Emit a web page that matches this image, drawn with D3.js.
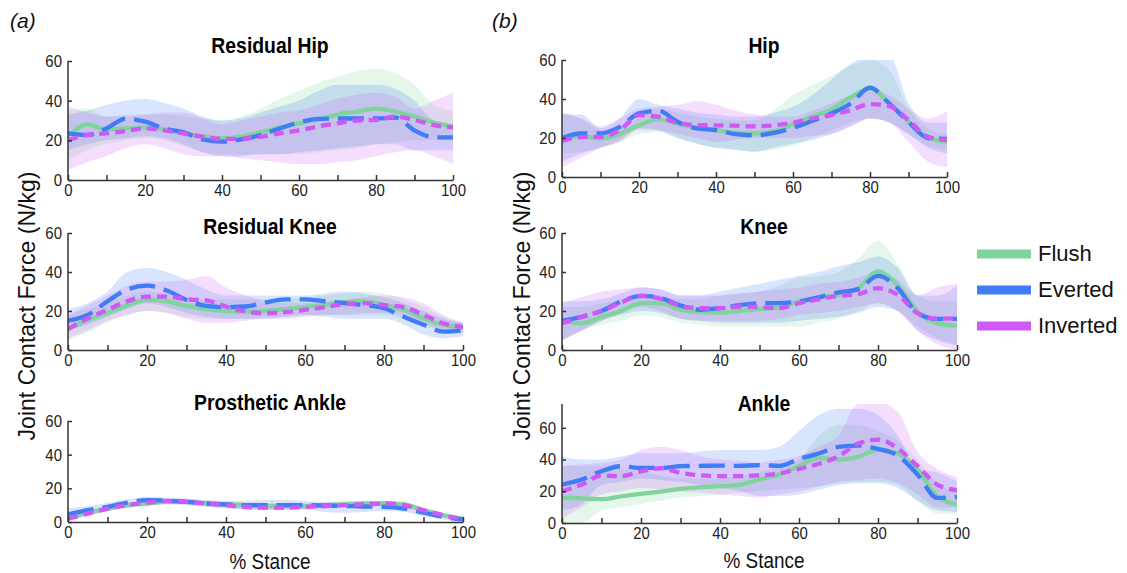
<!DOCTYPE html>
<html>
<head>
<meta charset="utf-8">
<script src="https://cdn.jsdelivr.net/npm/d3@7/dist/d3.min.js"></script>
<style>
  html, body { margin: 0; padding: 0; background: #fff; }
  svg { display: block; }
  .tick text { font-family: "Liberation Sans", "Helvetica", sans-serif; font-size: 17px; fill: #222; }
  .ptitle { font-family: "Liberation Sans", "Helvetica", sans-serif; font-weight: bold; font-size: 22px; fill: #000; }
  .alabel { font-family: "Liberation Sans", "Helvetica", sans-serif; font-size: 24px; fill: #111; }
  .xlabel { font-family: "Liberation Sans", "Helvetica", sans-serif; font-size: 22px; fill: #111; }
  .leg { font-family: "Liberation Sans", "Helvetica", sans-serif; font-size: 22px; fill: #111; }
  .tag { font-family: "Liberation Sans", "Helvetica", sans-serif; font-size: 21px; font-style: italic; fill: #111; }
</style>
</head>
<body>
<svg id="chart" width="1127" height="573"></svg>
<script>
// % stance sample points shared by every curve
const stance = [0,5,10,15,20,25,30,35,40,45,50,55,60,65,70,75,80,85,90,95,100];
const conditions = ["Flush", "Everted", "Inverted"];
const xTicks = [0,20,40,60,80,100];
const xMinorTicks = [0,10,20,30,40,50,60,70,80,90,100];
const yTicks = [0,20,40,60];

// Residual hip (N/kg)
const rHipFlush      = [22,28,25.5,26,26.5,25.5,23.5,22,21,22,24,26.5,28.5,30.5,33,34.5,36,34.5,32,29,27];
const rHipFlushLo    = [10,15,18,20,21,20,17,14,13,13,13,13,13,14,15,16,18,19,20,20,20];
const rHipFlushHi    = [35,36,32,33,33,33,32,31,30,32,36,41,45,49,52,55,56,54,48,38,35];
const rHipEverted    = [23.5,22.7,26,31,29.4,26,24,20.5,19.3,20.5,22.7,26,29,30.8,31,31,31,31.4,25,21.5,21.5];
const rHipEvertedLo  = [15,18,20,21,22,21,18,14,12,12,13,13,14,15,16,17,18,18,15,15,15];
const rHipEvertedHi  = [33,35,38,40,41,39,36,32,30,31,34,37,40,45,48,48,48,46,40,30,28];
const rHipInverted   = [20,22.7,23.5,24.7,26,25,23.5,21.8,20.7,20.8,21.8,23.5,25,27,28.6,30,30.3,32,30.3,27.7,26.5];
const rHipInvertedLo = [5,9,12,16,18,16,13,12,12,11,10,9,8,8,9,10,12,14,15,12,8];
const rHipInvertedHi = [37,34,32,32,33,34,34,31,28,30,32,34,35,38,41,43,44,42,36,40,44];

// Residual knee (N/kg)
const rKneeFlush      = [11,15.4,19,23,25.7,25,22.6,21,20,19.7,20,21,22,23,24.4,25,23,20.6,16.3,12.9,11.7];
const rKneeFlushLo    = [5,9,14,18,20,19,17,16,16,16,17,17,18,18,18,18,18,16,12,10,9];
const rKneeFlushHi    = [18,21,24,28,30,29,27,26,26,26,26,26,27,28,29,30,29,26,22,17,14];
const rKneeEverted    = [15,18,25,31,33,30.5,25.7,22.6,22,22.3,24.4,26,26,25,24,23,21.4,17,12.9,9.4,10];
const rKneeEvertedLo  = [10,13,17,21,24,22,19,17,16,16,16,17,18,17,16,16,16,13,8,6,7];
const rKneeEvertedHi  = [21,24,30,40,42,40,36,31,28,28,28,28,28,29,30,29,27,24,20,16,14];
const rKneeInverted   = [10.6,16.3,20.6,25,27.4,27.4,26,25.4,22.3,19.7,18.9,19.4,20.6,22,23.5,24,23,22,18,13.7,11.7];
const rKneeInvertedLo = [6,10,15,18,20,19,16,14,14,15,16,16,17,18,18,19,19,18,14,10,9];
const rKneeInvertedHi = [18,23,28,33,35,35,36,38,32,28,25,24,24,25,26,27,28,27,24,18,14];

// Prosthetic ankle (N/kg)
const pAnkleFlush      = [3,5.5,8,10,11,12,12,11,10.5,10,9.5,9.5,9.5,10,10.5,11,11,10.5,7,4,2];
const pAnkleFlushLo    = [1,4,6.5,8.5,9.5,10.5,10.5,9.5,9,8.5,8,8,8,8.5,9,9.5,9.5,9,5.5,2.5,1];
const pAnkleFlushHi    = [5,7,9.5,11.5,12.5,13.5,13.5,12.5,12,11.5,11,11,11,11.5,12,12.5,12.5,12,8.5,5.5,3];
const pAnkleEverted    = [4.5,7,9,11.5,13,12.7,12,11,10.5,10,10,10,10,9.8,9.5,9.2,9,8,5.5,3,1.5];
const pAnkleEvertedLo  = [1,4,6.5,9,10.5,10.5,10,9,8,7.5,7.5,7.5,7.5,6,5.5,6,6.5,6,3.5,1.5,0.5];
const pAnkleEvertedHi  = [8,9.5,11.5,13.5,15,14.5,14,13,12.5,12.5,13,13,12.5,12,12,12,11.5,10,7.5,4.5,2.5];
const pAnkleInverted   = [2,5,8,10,11.5,12.5,12,11,10,9,8.5,8.5,9,9.5,10,10.5,11,10,7,4,1.5];
const pAnkleInvertedLo = [0.5,3.5,6.5,8.5,10,11,10.5,9.5,8.5,7.5,7,7,7.5,8,8.5,9,9.5,8.5,5.5,2.5,0.5];
const pAnkleInvertedHi = [3.5,6.5,9.5,11.5,13,14,13.5,12.5,11.5,10.5,10,10,10.5,11,11.5,12,12.5,11.5,8.5,5.5,2.5];

// Intact hip (N/kg)
const hipFlush      = [19,21,19.7,22,26.6,29.5,27.4,25.2,24,22.8,22.3,23.5,27,31,34.6,40.8,45.4,37.7,28.3,20.2,18];
const hipFlushLo    = [12,13,15,18,22,23,20,17,15,14,13,14,16,20,24,28,30,28,22,16,14];
const hipFlushHi    = [33,30,24,26,30,35,33,31,30,29,29,34,42,47,52,57,60,55,35,25,22];
const hipEverted    = [20,22.3,22.3,25.7,32.6,34,28.3,24.9,24,22,21.4,22.6,25.2,28.8,32.6,37.7,45.8,37.7,28.3,20,19.5];
const hipEvertedLo  = [8,12,15,19,25,24,20,17,15,14,13,15,17,19,22,26,30,28,22,15,12];
const hipEvertedHi  = [32,32,25,30,40,37,35,33,32,31,31,33,36,42,50,58,62,62,38,28,28];
const hipInverted   = [18.5,20.5,20.6,24,31.7,30.9,27.8,26.6,26.5,26.3,26,26.5,27.8,30,31.7,34.3,37.4,36.4,29.2,20.6,18.9];
const hipInvertedLo = [5,10,15,18,24,24,22,20,18,19,20,20,20,21,22,26,30,28,18,8,5];
const hipInvertedHi = [33,30,26,30,35,36,37,39,37,34,32,31,31,34,38,42,45,42,35,30,34];

// Intact knee (N/kg)
const kneeFlush      = [15,13.7,17,20,24,24,20.6,19.4,19.2,20,21,22,24.9,27.1,28.3,31.7,40.3,33,19.7,13.7,12.5];
const kneeFlushLo    = [5,10,13,15,18,17,14,13,12,12,12,12,12,14,16,20,24,20,12,6,3];
const kneeFlushHi    = [22,22,24,26,29,28,26,26,28,29,30,33,37,38,40,47,56,44,28,25,25];
const kneeEverted    = [15,17,20,24.9,27.8,26.6,22.8,20.6,21.5,23,24,24,24.9,27,29.5,31.2,38,31.7,18.9,16,16];
const kneeEvertedLo  = [5,10,15,18,20,19,16,15,14,14,14,14,15,16,17,19,22,20,10,5,2];
const kneeEvertedHi  = [25,25,26,29,32,31,28,28,30,32,34,36,38,40,43,45,48,42,28,28,33];
const kneeInverted   = [13.7,17,20,24.4,27.8,26.2,22.6,21.4,21.4,22.3,22,21.4,24,26,27.8,28.6,31.7,28.3,18.9,16,16.3];
const kneeInvertedLo = [5,10,15,19,22,20,16,15,15,15,15,16,18,19,20,22,24,20,10,3,0];
const kneeInvertedHi = [24,27,30,31,32,31,28,28,28,29,30,31,32,34,35,37,40,36,28,32,34];

// Intact ankle (N/kg)
const ankleFlush      = [16,15.5,15,16.8,18.3,19.8,21.5,22.5,23.2,24.2,27.4,30.5,36,41,40,41.7,46.3,44,33.7,16.8,11.6];
const ankleFlushLo    = [0,0,8,10,12,14,16,17,18,19,20,21,22,23,25,26,26,24,14,6,6];
const ankleFlushHi    = [36,36,36,34,32,30,28,28,28,30,32,35,40,55,62,62,58,52,40,25,20];
const ankleEverted    = [24.2,27.4,32.6,35.8,34.7,34.7,35.8,36,36.2,36,36.5,36,40.4,43.8,48,48.8,46.7,42.5,30.5,15.8,16.4];
const ankleEvertedLo  = [8,12,24,26,28,27,26,24,22,20,17,17,18,21,24,25,25,22,14,8,7];
const ankleEvertedHi  = [42,40,40,42,44,44,44,45,46,46,46,48,58,68,72,72,68,55,34,32,26];
const ankleInverted   = [20,24.2,29.9,29.5,32.6,34.5,31.6,30,29.5,29.5,30,31.2,34.1,37.3,42,50.1,52.6,47,35.8,24.2,20.6];
const ankleInvertedLo = [3,10,18,20,22,21,20,19,18,17,16,18,20,23,26,27,28,25,18,10,10];
const ankleInvertedHi = [36,37,38,40,46,48,46,42,40,39,38,40,42,48,55,75,76,70,45,34,29];

const colors = { Flush: "#7fd49c", Everted: "#3f7cf6", Inverted: "#cf59f6" };
const dashes = { Flush: null, Everted: "26,9", Inverted: "10,6" };

const svg = d3.select("#chart");

// Narrow a text element horizontally to mimic a condensed face
function condense(sel, factor) {
  sel.each(function () {
    const len = this.getComputedTextLength();
    if (len > 0) {
      d3.select(this).attr("textLength", len * factor).attr("lengthAdjust", "spacingAndGlyphs");
    }
  });
}

// Panel frames (plot area in px), title placement and the series each one shows
const panels = [
  { title: "Residual Hip", x0: 68, x1: 453, y0: 180, y1: 61, yMax: 60, tx: 270, ty: 53,
    series: { Flush: [rHipFlush, rHipFlushLo, rHipFlushHi], Everted: [rHipEverted, rHipEvertedLo, rHipEvertedHi], Inverted: [rHipInverted, rHipInvertedLo, rHipInvertedHi] } },
  { title: "Residual Knee", x0: 68, x1: 463, y0: 350, y1: 233, yMax: 60, tx: 270, ty: 234,
    series: { Flush: [rKneeFlush, rKneeFlushLo, rKneeFlushHi], Everted: [rKneeEverted, rKneeEvertedLo, rKneeEvertedHi], Inverted: [rKneeInverted, rKneeInvertedLo, rKneeInvertedHi] } },
  { title: "Prosthetic Ankle", x0: 68, x1: 463, y0: 522, y1: 421, yMax: 60, tx: 270, ty: 410,
    series: { Flush: [pAnkleFlush, pAnkleFlushLo, pAnkleFlushHi], Everted: [pAnkleEverted, pAnkleEvertedLo, pAnkleEvertedHi], Inverted: [pAnkleInverted, pAnkleInvertedLo, pAnkleInvertedHi] } },
  { title: "Hip", x0: 562, x1: 947, y0: 177, y1: 60, yMax: 60, tx: 764, ty: 53,
    series: { Flush: [hipFlush, hipFlushLo, hipFlushHi], Everted: [hipEverted, hipEvertedLo, hipEvertedHi], Inverted: [hipInverted, hipInvertedLo, hipInvertedHi] } },
  { title: "Knee", x0: 562, x1: 957, y0: 350, y1: 233, yMax: 60, tx: 764, ty: 234,
    series: { Flush: [kneeFlush, kneeFlushLo, kneeFlushHi], Everted: [kneeEverted, kneeEvertedLo, kneeEvertedHi], Inverted: [kneeInverted, kneeInvertedLo, kneeInvertedHi] } },
  { title: "Ankle", x0: 562, x1: 957, y0: 523, y1: 404, yMax: 75, tx: 764, ty: 411,
    series: { Flush: [ankleFlush, ankleFlushLo, ankleFlushHi], Everted: [ankleEverted, ankleEvertedLo, ankleEvertedHi], Inverted: [ankleInverted, ankleInvertedLo, ankleInvertedHi] } }
];

const defs = svg.append("defs");

panels.forEach((p, i) => {
  const x = d3.scaleLinear().domain([0, 100]).range([p.x0, p.x1]);
  const y = d3.scaleLinear().domain([0, p.yMax]).range([p.y0, p.y1]);

  defs.append("clipPath").attr("id", "clip" + i)
    .append("rect").attr("x", p.x0).attr("y", p.y1)
    .attr("width", p.x1 - p.x0).attr("height", p.y0 - p.y1);

  const g = svg.append("g");
  const plot = g.append("g").attr("clip-path", `url(#clip${i})`);

  const area = d3.area()
    .x((d, k) => x(stance[k]))
    .y0(d => y(d[0]))
    .y1(d => y(d[1]))
    .curve(d3.curveMonotoneX);
  const line = d3.line()
    .x((d, k) => x(stance[k]))
    .y(d => y(d))
    .curve(d3.curveMonotoneX);

  // shaded ±SD bands
  conditions.forEach(c => {
    const [, lo, hi] = p.series[c];
    plot.append("path")
      .datum(lo.map((v, k) => [v, hi[k]]))
      .attr("d", area)
      .attr("fill", colors[c])
      .attr("fill-opacity", 0.2);
  });

  // mean curves
  conditions.forEach(c => {
    plot.append("path")
      .datum(p.series[c][0])
      .attr("d", line)
      .attr("fill", "none")
      .attr("stroke", colors[c])
      .attr("stroke-width", 4.3)
      .attr("stroke-dasharray", dashes[c]);
  });

  // axes with inward ticks
  const xAxis = d3.axisBottom(x).tickValues(xMinorTicks)
    .tickFormat(d => xTicks.includes(d) ? d : "")
    .tickSizeInner(-5).tickSizeOuter(0).tickPadding(4);
  const gx = g.append("g").attr("transform", `translate(0,${p.y0})`).call(xAxis);
  gx.select(".domain").attr("stroke", "#333").attr("stroke-width", 1.5);
  gx.selectAll(".tick line").attr("stroke", "#333").attr("stroke-width", 1.5);
  condense(gx.selectAll(".tick text"), 0.88);

  const yAxis = d3.axisLeft(y).tickValues(yTicks)
    .tickSizeInner(-4).tickSizeOuter(0).tickPadding(6);
  const gy = g.append("g").attr("transform", `translate(${p.x0},0)`).call(yAxis);
  gy.select(".domain").attr("stroke", "#333").attr("stroke-width", 1.5)
    .attr("d", `M0,${p.y0}V${p.y1}`);
  gy.selectAll(".tick line").attr("stroke", "#333").attr("stroke-width", 1.5);
  condense(gy.selectAll(".tick text"), 0.88);

  const t = g.append("text").attr("class", "ptitle")
    .attr("x", p.tx)
    .attr("y", p.ty)
    .attr("text-anchor", "middle")
    .text(p.title);
  condense(t, 0.88);
});

// shared axis labels
[35, 530].forEach(cx => {
  const t = svg.append("text").attr("class", "alabel")
    .attr("transform", `translate(${cx},306) rotate(-90)`)
    .attr("text-anchor", "middle")
    .text("Joint Contact Force (N/kg)");
  condense(t, 0.96);
});
[[270, 569], [764, 568]].forEach(([cx, cy]) => {
  const t = svg.append("text").attr("class", "xlabel").attr("x", cx).attr("y", cy)
    .attr("text-anchor", "middle").text("% Stance");
  condense(t, 0.86);
});

// panel tags
svg.append("text").attr("class", "tag").attr("x", 10).attr("y", 28).text("(a)");
svg.append("text").attr("class", "tag").attr("x", 492).attr("y", 28).text("(b)");

// legend
conditions.forEach((c, k) => {
  const ly = 254 + k * 36;
  svg.append("line").attr("x1", 977).attr("x2", 1031).attr("y1", ly).attr("y2", ly)
    .attr("stroke", colors[c]).attr("stroke-width", 9);
  svg.append("text").attr("class", "leg").attr("x", 1038).attr("y", ly + 7).text(c);
});
</script>
</body>
</html>
